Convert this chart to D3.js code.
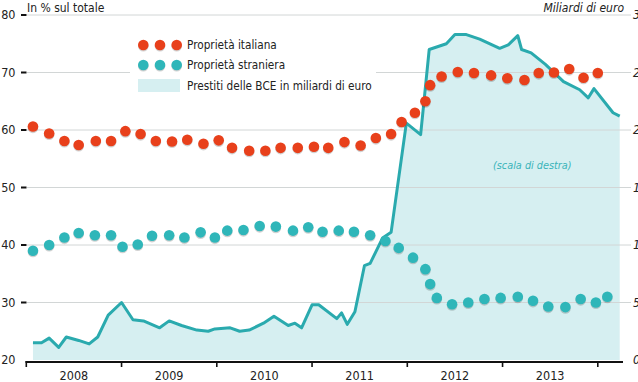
<!DOCTYPE html>
<html><head><meta charset="utf-8">
<script src="https://cdn.jsdelivr.net/npm/d3@7/dist/d3.min.js"></script>
<style>
html,body{margin:0;padding:0;background:#fff;}
svg{display:block;}
text{font-family:"Liberation Sans Narrow","DejaVu Sans Condensed","Liberation Sans",sans-serif;}
</style></head>
<body>
<svg id="c" width="638" height="382"></svg>
<script>
// ---------- DATA ----------
const yearLabels = ["2008","2009","2010","2011","2012","2013"];
const leftTicks = [20,30,40,50,60,70,80];
const rightTicks = ["0","50","100","150","200","250","300"];

// Proprietà italiana (% of total) — decimal-year dates
const italDates = [2008.07,2008.24,2008.40,2008.55,2008.73,2008.89,2009.04,2009.20,2009.36,2009.53,2009.69,2009.86,
  2010.02,2010.16,2010.34,2010.51,2010.67,2010.85,2011.02,2011.17,2011.34,2011.51,2011.67,2011.83,2011.94,
  2012.08,2012.19,2012.24,2012.36,2012.53,2012.70,2012.88,2013.05,2013.23,2013.38,2013.54,2013.70,2013.85,2014.00];
const italValues = [60.6,59.4,58.1,57.4,58.1,58.1,59.8,59.3,58.1,58.0,58.3,57.6,
  58.2,56.9,56.4,56.4,56.9,56.9,57.1,56.9,57.9,57.3,58.6,59.3,61.4,
  63.0,65.0,67.8,69.3,70.1,69.9,69.5,69.0,68.7,69.9,70.0,70.6,69.1,69.9];

// Proprietà straniera (% of total)
const foreignDates = [2008.07,2008.24,2008.40,2008.55,2008.72,2008.89,2009.01,2009.17,2009.32,2009.50,2009.66,2009.83,
  2009.98,2010.11,2010.28,2010.45,2010.62,2010.80,2010.96,2011.11,2011.28,2011.44,2011.61,2011.77,2011.91,
  2012.06,2012.19,2012.24,2012.31,2012.47,2012.64,2012.81,2012.98,2013.16,2013.32,2013.48,2013.66,2013.82,2013.98,2014.10];
const foreignValues = [39.0,40.0,41.3,42.1,41.7,41.7,39.7,40.1,41.6,41.7,41.3,42.2,
  41.3,42.5,42.6,43.3,43.2,42.5,43.1,42.3,42.5,42.3,41.7,40.7,39.5,
  37.8,35.8,33.2,30.8,29.7,30.0,30.6,30.8,31.0,30.3,29.3,29.2,30.6,30.0,31.0];

// Prestiti BCE (miliardi di euro, right scale)
const ecbDates = [2008.07,2008.16,2008.24,2008.34,2008.42,2008.55,2008.66,2008.75,2008.86,2009.00,2009.12,2009.23,
  2009.40,2009.50,2009.63,2009.79,2009.91,2009.98,2010.14,2010.24,2010.34,2010.49,2010.60,2010.75,2010.82,2010.89,
  2011.00,2011.07,2011.26,2011.31,2011.37,2011.45,2011.55,2011.61,2011.74,2011.83,2011.99,2012.14,2012.23,2012.41,
  2012.50,2012.62,2012.76,2012.97,2013.06,2013.16,2013.20,2013.30,2013.45,2013.64,2013.81,2013.90,2013.96,2014.16,2014.23];
const ecbValues = [15,15,19,11,20,17,14,20,39,50,35,34,
  28,34,30,26,25,27,28,25,26,32,38,30,32,28,
  48,48,36,41,31,42,82,84,106,111,206,196,270,275,
  283,283,279,271,274,282,270,267,257,242,235,228,236,215,212];

// ---------- LAYOUT ----------
const svg = d3.select("#c");
const x = d3.scaleLinear().domain([2008, 2014]).range([26.3, 597.8]);
const yL = d3.scaleLinear().domain([20, 80]).range([360, 15]);
const yR = d3.scaleLinear().domain([0, 300]).range([360, 15]);

const ORANGE = "#e8401b", TEAL = "#2fb6b9", LINE = "#2aaaae", SHADE = "#d6eff1";

// area
const ecb = ecbDates.map((d,i)=>({d, v: ecbValues[i]}));
svg.append("path").datum(ecb)
  .attr("d", d3.area().x(p=>x(p.d)).y0(yR(0)).y1(p=>yR(p.v)))
  .attr("fill", SHADE);

// gridlines
svg.append("g").selectAll("line").data(leftTicks.slice(1)).join("line")
  .attr("x1", 27).attr("x2", 631)
  .attr("y1", d=>yL(d)).attr("y2", d=>yL(d))
  .attr("stroke", "#d2d6d6").attr("stroke-width", 1);

// left tick dashes & labels
const lt = svg.append("g");
lt.selectAll("line").data(leftTicks.slice(1)).join("line")
  .attr("x1", 21).attr("x2", 26.5).attr("y1", d=>yL(d)).attr("y2", d=>yL(d))
  .attr("stroke", "#111").attr("stroke-width", 2);
lt.selectAll("text").data(leftTicks).join("text")
  .attr("x", 15.5).attr("y", d=>yL(d)).attr("dy", "0.35em")
  .attr("text-anchor", "end").attr("font-size", 12.5).attr("fill", "#222")
  .text(d=>d);

// right labels (cut by the page edge, as in the original)
svg.append("g").selectAll("text").data(rightTicks).join("text")
  .attr("x", 633).attr("y", (d,i)=>yL(leftTicks[i])).attr("dy", "0.35em")
  .attr("font-size", 12.5).attr("font-style", "italic").attr("fill", "#222")
  .text(d=>d);

// headers
svg.append("text").attr("x", 27).attr("y", 12).attr("font-size", 12).attr("fill", "#222").text("In % sul totale");
svg.append("text").attr("x", 624).attr("y", 12).attr("font-size", 12).attr("font-style","italic")
  .attr("text-anchor","end").attr("fill", "#222").text("Miliardi di euro");

// ECB line
svg.append("path").datum(ecb)
  .attr("d", d3.line().x(p=>x(p.d)).y(p=>yR(p.v)))
  .attr("fill", "none").attr("stroke", LINE).attr("stroke-width", 3).attr("stroke-linejoin","round");

// annotation
svg.append("text").attr("x", 493).attr("y", 165).attr("dy","0.35em")
  .attr("font-size", 10.8).attr("font-style","italic").attr("fill", "#3ab4ba").text("(scala di destra)");

// dots
function dots(dates, vals, col){
  const g = svg.append("g");
  const data = dates.map((d,i)=>({d, v: vals[i]}));
  g.selectAll("circle.s").data(data).join("circle").attr("class","s")
    .attr("cx", p=>x(p.d)).attr("cy", p=>yL(p.v)+1.3).attr("r", 5.3).attr("fill","rgba(0,0,0,0.18)");
  g.selectAll("circle.m").data(data).join("circle").attr("class","m")
    .attr("cx", p=>x(p.d)).attr("cy", p=>yL(p.v)).attr("r", 5.3).attr("fill", col);
}
dots(foreignDates, foreignValues, TEAL);
dots(italDates, italValues, ORANGE);

// x axis
svg.append("line").attr("x1", 25.5).attr("x2", 623).attr("y1", 362).attr("y2", 362)
  .attr("stroke", "#111").attr("stroke-width", 2);
const yearTicks = d3.range(2008, 2015);
svg.append("g").selectAll("line").data(yearTicks).join("line")
  .attr("x1", d=>x(d)).attr("x2", d=>x(d)).attr("y1", 361).attr("y2", 367)
  .attr("stroke", "#111").attr("stroke-width", 1.6);
svg.append("g").selectAll("text").data(yearLabels).join("text")
  .attr("x", d=>x(+d + 0.5)).attr("y", 380).attr("text-anchor","middle")
  .attr("font-size", 12.5).attr("fill", "#222").text(d=>d);

// legend
const lg = svg.append("g");
lg.append("rect").attr("x", 130).attr("y", 33).attr("width", 246).attr("height", 62).attr("fill", "#fff");
const legendItems = [{label:"Proprietà italiana", col:ORANGE, cy:45},{label:"Proprietà straniera", col:TEAL, cy:65}];
legendItems.forEach(it=>{
  [143.3,160,176.7].forEach(cx=>{
    lg.append("circle").attr("cx",cx).attr("cy",it.cy+1.3).attr("r",5.3).attr("fill","rgba(0,0,0,0.18)");
    lg.append("circle").attr("cx",cx).attr("cy",it.cy).attr("r",5.3).attr("fill",it.col);
  });
  lg.append("text").attr("x",187).attr("y",it.cy).attr("dy","0.35em")
    .attr("font-family","'Liberation Sans',Arial,sans-serif").attr("font-size",11.7).attr("fill","#222").text(it.label);
});
lg.append("rect").attr("x",138).attr("y",79).attr("width",42).attr("height",13).attr("fill",SHADE);
lg.append("text").attr("x",187).attr("y",86).attr("dy","0.35em")
  .attr("font-family","'Liberation Sans',Arial,sans-serif").attr("font-size",11.7).attr("fill","#222")
  .text("Prestiti delle BCE in miliardi di euro");
</script>
</body></html>
